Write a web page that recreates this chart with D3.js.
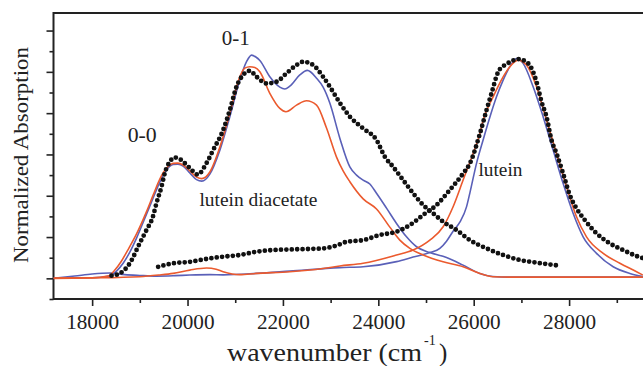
<!DOCTYPE html>
<html>
<head>
<meta charset="utf-8">
<script src="https://cdn.jsdelivr.net/npm/d3@7"></script>
<style>
  html, body { margin: 0; padding: 0; background: #fff; }
  svg { display: block; }
  text { font-family: "Liberation Serif", "Times New Roman", Times, "Nimbus Roman", Tinos, serif; fill: #222; }
</style>
</head>
<body>
<svg id="chart" width="643" height="366"></svg>
<script>
// absorption spectra: measured (dots) vs two model curves, lutein diacetate + lutein
const X_MAJOR = [18000, 20000, 22000, 24000, 26000, 28000];
const X_MINOR = [19000, 21000, 23000, 25000, 27000, 29000];
const Y_MAJOR = [0, 0.2, 0.4, 0.6, 0.8, 1.0, 1.2];
const Y_MINOR = [-0.1, 0.1, 0.3, 0.5, 0.7, 0.9, 1.1];

// measured, lutein diacetate [wavenumber, absorption]
const DIAC_MEAS = [
  [18407,0.013],[18581,0.024],[18790,0.073],[19000,0.171],[19140,0.234],[19273,0.298],
  [19350,0.365],[19455,0.444],[19524,0.510],[19629,0.565],[19733,0.585],[19838,0.578],
  [19908,0.565],[20048,0.534],[20215,0.503],[20398,0.558],[20537,0.621],[20746,0.718],
  [20887,0.815],[21027,0.928],[21166,0.985],[21306,1.005],[21447,0.976],[21656,0.944],
  [21866,0.952],[22076,0.993],[22285,1.033],[22424,1.049],[22633,1.033],[22843,0.976],
  [22983,0.928],[23193,0.850],[23403,0.783],[23682,0.726],[23962,0.670],[24136,0.589],
  [24310,0.540],[24520,0.476],[24730,0.412],[24940,0.355],[25149,0.315],[25359,0.274],
  [25640,0.234],[25919,0.185],[26269,0.145],[26617,0.113],[26967,0.089],[27317,0.076],
  [27770,0.062]
];

// measured, lutein
const LUT_MEAS = [
  [19384,0.056],[19698,0.073],[20048,0.080],[20398,0.094],[20746,0.105],[21096,0.113],
  [21447,0.129],[21795,0.137],[22145,0.140],[22495,0.142],[22843,0.145],[23124,0.159],
  [23334,0.177],[23682,0.185],[24032,0.210],[24382,0.226],[24661,0.258],[24940,0.307],
  [25220,0.355],[25499,0.428],[25778,0.508],[25919,0.556],[26128,0.699],[26269,0.815],
  [26373,0.896],[26512,0.999],[26652,1.033],[26757,1.047],[26931,1.062],[27141,1.041],
  [27317,0.952],[27422,0.855],[27526,0.783],[27631,0.670],[27736,0.605],[27874,0.508],
  [28015,0.403],[28155,0.339],[28330,0.282],[28575,0.218],[28855,0.169],[29133,0.137],
  [29414,0.108],[29546,0.098]
];

// model A (blue), lutein diacetate
const DIAC_A = [
  [17187,0.002],[18000,0.003],[18371,0.011],[18511,0.035],[18650,0.073],[18790,0.127],
  [18931,0.195],[19140,0.311],[19279,0.389],[19419,0.466],[19560,0.525],[19698,0.551],
  [19797,0.553],[19908,0.544],[20048,0.510],[20189,0.478],[20300,0.471],[20468,0.505],
  [20678,0.621],[20887,0.783],[21096,0.960],[21237,1.049],[21342,1.081],[21432,1.072],
  [21516,1.055],[21725,0.976],[21935,0.926],[22040,0.917],[22145,0.931],[22354,0.985],
  [22512,1.007],[22705,0.969],[22843,0.926],[22983,0.849],[23193,0.679],[23403,0.540],
  [23543,0.500],[23682,0.476],[23822,0.457],[23962,0.412],[24172,0.340],[24382,0.266],
  [24591,0.201],[24801,0.153],[25080,0.125],[25430,0.101],[25778,0.064],[26128,0.024],
  [26400,0.009],[26757,0.006],[27800,0.006],[29546,0.006]
];

// model B (red), lutein diacetate
const DIAC_B = [
  [17187,0.002],[18000,0.003],[18329,0.011],[18476,0.040],[18602,0.079],[18748,0.137],
  [18931,0.215],[19140,0.323],[19279,0.403],[19419,0.481],[19560,0.534],[19698,0.557],
  [19797,0.558],[19908,0.549],[20048,0.520],[20189,0.491],[20300,0.483],[20468,0.515],
  [20678,0.636],[20887,0.800],[21096,0.976],[21201,1.018],[21306,1.025],[21411,1.021],
  [21516,1.000],[21725,0.896],[21935,0.823],[22062,0.807],[22285,0.839],[22495,0.860],
  [22705,0.839],[22914,0.728],[23124,0.587],[23262,0.520],[23403,0.468],[23682,0.385],
  [23962,0.336],[24241,0.248],[24451,0.185],[24661,0.145],[24940,0.113],[25359,0.080],
  [25778,0.056],[26128,0.024],[26400,0.008],[26757,0.006],[29546,0.006]
];

// model A (blue), lutein
const LUT_A = [
  [17187,0.000],[17637,0.011],[18000,0.021],[18371,0.026],[18686,0.018],[19000,0.014],
  [19350,0.011],[19730,0.013],[20048,0.016],[20468,0.018],[20746,0.017],[21447,0.024],
  [22145,0.035],[23193,0.052],[23682,0.056],[24382,0.081],[24730,0.103],[25080,0.125],
  [25290,0.145],[25430,0.180],[25568,0.228],[25709,0.272],[25849,0.346],[25919,0.413],
  [26059,0.557],[26197,0.670],[26338,0.780],[26478,0.879],[26617,0.960],[26757,1.025],
  [26897,1.065],[27036,1.041],[27246,0.928],[27455,0.783],[27665,0.621],[27874,0.460],
  [28084,0.315],[28294,0.201],[28575,0.121],[28924,0.056],[29274,0.024],[29546,0.009]
];

// model B (red), lutein
const LUT_B = [
  [17187,0.000],[18000,0.002],[19000,0.008],[19400,0.016],[19698,0.024],[20048,0.040],
  [20398,0.050],[20600,0.044],[20746,0.032],[21096,0.018],[21447,0.024],[22145,0.032],
  [22843,0.048],[23193,0.060],[23682,0.073],[24382,0.113],[24730,0.137],[25080,0.185],
  [25359,0.250],[25568,0.347],[25778,0.476],[25988,0.605],[26128,0.700],[26197,0.766],
  [26407,0.879],[26617,0.976],[26757,1.025],[26931,1.057],[27107,1.033],[27317,0.928],
  [27526,0.767],[27736,0.605],[27946,0.444],[28155,0.298],[28365,0.201],[28715,0.121],
  [29064,0.073],[29414,0.032],[29546,0.016]
];

const ANNOT = [
  {text: "0-0", w: 19050, v: 0.66, size: 21, len: 29, anchor: "middle"},
  {text: "0-1", w: 21010, v: 1.13, size: 21, len: 28, anchor: "middle"},
  {text: "lutein diacetate", w: 20250, v: 0.35, size: 19, len: 118, anchor: "start"},
  {text: "lutein", w: 26100, v: 0.495, size: 19, len: 44, anchor: "start"}
];

(function () {
  const BLUE = "#5a60b8", RED = "#eb5a2e", INK = "#222";
  const SERIF = '"Liberation Serif", "Times New Roman", Times, "Nimbus Roman", Tinos, serif';
  const L = 53.5, T = 13, B = 299, R = 664.5;

  const svg = d3.select("#chart");
  const x = d3.scaleLinear([17190, 30000], [L, R]);
  const y = d3.scaleLinear([-0.1, 1.285], [B, T]);

  svg.append("defs").append("clipPath").attr("id", "plot")
    .append("rect").attr("x", L).attr("y", T).attr("width", R - L).attr("height", B - T);

  // axes: long ticks on major values, short on minor
  const gx = svg.append("g").attr("transform", `translate(0,${B})`);
  gx.call(d3.axisBottom(x).tickValues(X_MAJOR).tickSize(7).tickPadding(8)
    .tickFormat(d3.format("d")));
  gx.append("g").call(d3.axisBottom(x).tickValues(X_MINOR).tickSize(4).tickFormat(""));
  const gy = svg.append("g").attr("transform", `translate(${L},0)`);
  gy.call(d3.axisLeft(y).tickValues(Y_MAJOR).tickSize(7).tickFormat(""));
  gy.append("g").call(d3.axisLeft(y).tickValues(Y_MINOR).tickSize(4).tickFormat(""));
  svg.selectAll(".domain").remove();
  svg.selectAll("g[font-family]").attr("font-family", SERIF);
  svg.selectAll(".tick line").attr("stroke", INK).attr("stroke-width", 1.6);
  gx.selectAll(".tick text").attr("font-size", 21).attr("fill", INK)
    .attr("textLength", 53).attr("lengthAdjust", "spacingAndGlyphs");

  svg.append("rect").attr("x", L).attr("y", T).attr("width", R - L).attr("height", B - T)
    .attr("fill", "none").attr("stroke", INK).attr("stroke-width", 2);

  const line = d3.line().x((d) => x(d[0])).y((d) => y(d[1])).curve(d3.curveMonotoneX);
  const plot = svg.append("g").attr("clip-path", "url(#plot)");

  [[LUT_A, BLUE], [DIAC_A, BLUE], [LUT_B, RED], [DIAC_B, RED]].forEach(([data, c]) =>
    plot.append("path").attr("d", line(data)).attr("fill", "none")
      .attr("stroke", c).attr("stroke-width", 1.6));

  [DIAC_MEAS, LUT_MEAS].forEach((data) =>
    plot.append("path").attr("d", line(data)).attr("fill", "none")
      .attr("stroke", "#111").attr("stroke-width", 4.8)
      .attr("stroke-linecap", "round").attr("stroke-dasharray", "0 5.4"));

  svg.append("g").selectAll("text").data(ANNOT).join("text")
    .attr("x", (d) => x(d.w)).attr("y", (d) => y(d.v))
    .attr("font-size", (d) => d.size).attr("text-anchor", (d) => d.anchor)
    .attr("textLength", (d) => d.len).attr("lengthAdjust", "spacingAndGlyphs")
    .text((d) => d.text);

  svg.append("text").attr("transform", "translate(27.5,155) rotate(-90)")
    .attr("text-anchor", "middle").attr("font-size", 21)
    .attr("textLength", 216).attr("lengthAdjust", "spacingAndGlyphs")
    .text("Normalized Absorption");

  // x title: main run, superscript, closing paren
  svg.append("text").attr("x", 227).attr("y", 361).attr("font-size", 25)
    .attr("textLength", 195).attr("lengthAdjust", "spacingAndGlyphs")
    .text("wavenumber (cm");
  svg.append("text").attr("x", 424).attr("y", 345).attr("font-size", 14).text("-1");
  svg.append("text").attr("x", 439).attr("y", 361).attr("font-size", 25).text(")");
})();
</script>
</body>
</html>
